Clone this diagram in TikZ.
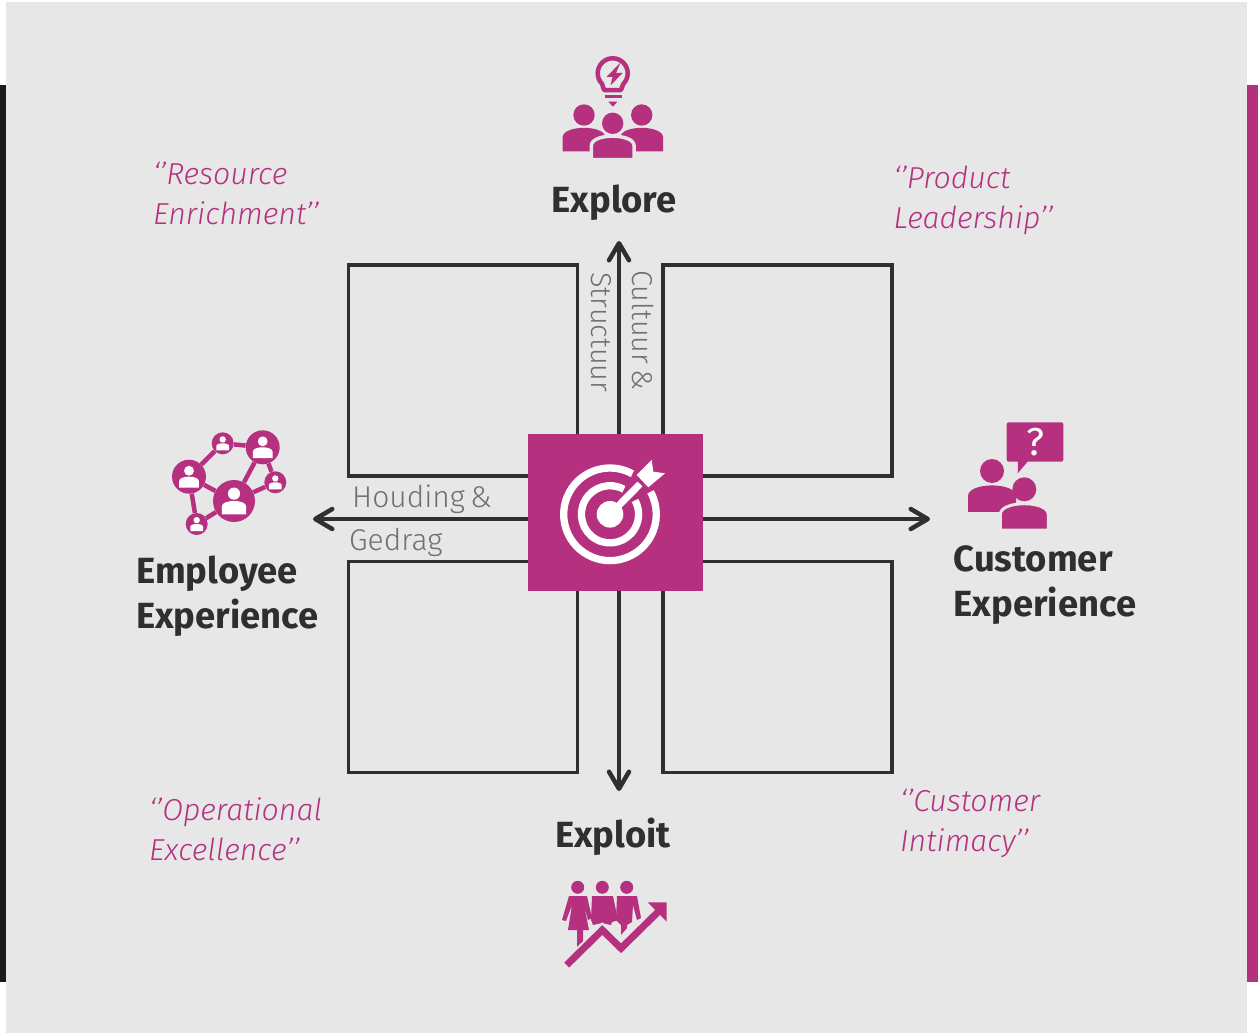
\documentclass[tikz,border=0pt]{standalone}
\usepackage{fontspec}
\setmainfont{Fira Sans}
\newfontfamily\lightfont{Fira Sans Light}
\usetikzlibrary{arrows.meta}
\definecolor{accent}{HTML}{B5317F}
\definecolor{panel}{HTML}{E7E7E7}
\definecolor{ink}{HTML}{2F2F2F}
\definecolor{mute}{HTML}{707070}
\tikzset{
  headfont/.style={font=\fontsize{36.4}{45}\selectfont\bfseries,text=ink,inner sep=0pt,align=left},
  quotefont/.style={font=\fontsize{30.3}{40.3}\selectfont\lightfont\itshape,text=accent,inner sep=0pt,align=left},
  axisfont/.style={font=\fontsize{30}{40}\selectfont\lightfont,text=mute,inner sep=0pt},
  uprightfont/.style={font=\fontsize{28.8}{40}\selectfont\lightfont,text=mute,inner sep=0pt},
  quadrant/.style={draw=ink,line width=3.7pt,minimum width=229pt,minimum height=211pt},
  flow/.style={draw=ink,line width=3.7pt,{Straight Barb[length=17pt,width=20pt,line width=4.5pt,round]}-{Straight Barb[length=17pt,width=20pt,line width=4.5pt,round]}}
}
% head at (#1,#2), radius #3, path options #4
\newcommand{\person}[4]{
  \path[#4,draw=none] (#1,#2) circle(#3pt);
  \path[#4] ({#1-2*#3},{#2+3.4*#3}) -- ({#1-2*#3},{#2+2.1*#3})
    .. controls ({#1-2*#3},{#2+1.5*#3}) and ({#1-#3},{#2+1.2*#3}) .. ({#1},{#2+1.2*#3})
    .. controls ({#1+#3},{#2+1.2*#3}) and ({#1+2*#3},{#2+1.5*#3}) .. ({#1+2*#3},{#2+2.1*#3})
    -- ({#1+2*#3},{#2+3.4*#3}) -- cycle;
}
\begin{document}
\begin{tikzpicture}[x=1pt,y=-1pt]
  \useasboundingbox (0,0) rectangle (1258,1033);
  \fill[white] (0,0) rectangle (1258,1033);
  \fill[panel] (6,2) rectangle (1247,1033);
  \fill[black!90] (0,85) rectangle (6,982);
  \fill[accent] (1247,85) rectangle (1258,982);

  \foreach \n/\x/\y in {tl/463/370.5, tr/777.5/370.5, bl/463/667, br/777.5/667}
    \node[quadrant] (box\n) at (\x,\y) {};

  \coordinate (tipN) at (619,241);
  \coordinate (tipS) at (619,791);
  \coordinate (tipW) at (313,519);
  \coordinate (tipE) at (930,519);
  \draw[flow] (tipN) -- (tipS);
  \draw[flow] (tipW) -- (tipE);

  \node[fill=accent,minimum width=175pt,minimum height=157pt] (hub) at (615.5,512.5) {};
  \foreach \a/\r in {46.3/7.3, 28.6/7.3}
    \draw[white,line width=\r pt] (610,514.3) ++(61:\a pt) arc[start angle=61,end angle=389,radius=\a pt];
  \fill[white] (610,514.3) circle(13.3pt);
  \draw[white,line width=7pt] (610,514.3) -- (640,484);
  \fill[white] (636.7,475) -- (651.7,460) -- (653.3,471.7) -- (665,473.3) -- (648.3,487.3) -- cycle;

  \node[headfont,anchor=base] (explore) at (614,212.5) {Explore};
  \node[headfont,anchor=base] (exploit) at (613,847.5) {Exploit};
  \node[headfont,anchor=north west] (employee) at (136,555.5) {Employee\\Experience};
  \node[headfont,anchor=north west] (customer) at (953.5,545) {Customer\\Experience};

  \node[quotefont,anchor=north west] (enrich) at (153,161.5) {‘’Resource\\Enrichment’’};
  \node[quotefont,anchor=north west] (product) at (893.5,165.5) {‘’Product\\Leadership’’};
  \node[quotefont,anchor=north west] (operate) at (149,797) {‘’Operational\\Excellence’’};
  \node[quotefont,anchor=north west] (intimacy) at (900,789) {‘’Customer\\Intimacy’’};

  \node[axisfont,anchor=base west] (houding) at (352,507) {Houding\,\&};
  \node[axisfont,anchor=base west] (gedrag) at (349,550.5) {Gedrag};
  \node[uprightfont,anchor=base west,rotate=-90] (structuur) at (591,272) {Structuur};
  \node[uprightfont,anchor=base west,rotate=-90] (cultuur) at (632.5,270) {Cultuur\,\&};

  % explore icon
  \draw[accent,line width=4.5pt,line join=round] (604,90) -- (602.1,83.9)
    arc[start angle=225,end angle=-45,radius=15pt] -- (621,90) -- cycle;
  \fill[accent] (605,95) rectangle (621.7,98.3);
  \fill[accent] (608.3,101.7) -- (617.3,101.7) -- (613,106.7) -- cycle;
  \fill[accent] (620.5,62.5) -- (606.5,77) -- (612.5,77) -- (610.5,85.5) -- (622.5,73) -- (616,73) -- cycle;
  \foreach \x/\y in {584/115, 641.7/115}
    {\person{\x}{\y}{10.7}{fill=accent}}
  \person{612.7}{123.3}{10.7}{fill=accent,draw=panel,line width=3.5pt}

  % employee icon
  \foreach \n/\x/\y/\r in {a/234/501/21, b/262.7/447.3/17, c/189/476.7/17, d/222.7/443.3/11, e/275.3/482.3/11, f/196.7/524/11}
    \node[circle,fill=accent,inner sep=0pt,minimum size=2*\r pt] (peer\n) at (\x,\y) {};
  \foreach \p/\q in {c/d, d/b, b/a, b/e, a/e, a/c, c/f, f/a}
    \draw[accent,line width=4.5pt] (peer\p) -- (peer\q);
  \foreach \x/\y/\r in {234/501/21, 262.7/447.3/17, 189/476.7/17, 222.7/443.3/11, 275.3/482.3/11, 196.7/524/11}
    {\person{\x}{\y-0.35*\r}{0.29*\r}{fill=white}}

  % customer icon
  \fill[accent,rounded corners=2pt] (1006.7,422.3) rectangle (1063.3,461.7);
  \fill[accent] (1018,460) -- (1017.7,473.3) -- (1029,460) -- cycle;
  \node[text=white,font=\fontsize{39}{39}\selectfont,inner sep=0pt] (ask) at (1035,442) {?};
  \person{992}{471}{12}{fill=accent}
  \person{1024.3}{489.3}{12}{fill=accent,draw=panel,line width=3pt}

  % exploit icon
  \foreach \x in {577.7,602.3,626.7}
    \fill[accent] (\x,887.3) circle(6.5pt);
  \fill[accent] (569,896) -- (587,896) -- (592,918) -- (588,920) -- (584,905) -- (589,930) -- (583,930) -- (583,948) -- (577,948) -- (577,930) -- (568,930) -- (572,905) -- (566,921) -- (562,920) -- cycle;
  \fill[accent] (592,896) -- (613,896) -- (618,920) -- (612,922) -- (611,925) -- (602,923) -- (593,925) -- (591,920) -- cycle;
  \fill[accent] (617,896) -- (637,896) -- (641,918) -- (637,920) -- (633,905) -- (632,922) -- (627,925) -- (627,928) -- (621,935) -- (621,925) -- (616,920) -- cycle;
  \draw[panel,line width=11pt] (566.7,965) -- (602.3,930) -- (621,948.3) -- (658,912);
  \draw[accent,line width=7pt] (566.7,965) -- (602.3,930) -- (621,948.3) -- (658,912);
  \fill[accent] (647.7,902.3) -- (666.7,902.3) -- (666.7,921.7) -- cycle;
\end{tikzpicture}
\end{document}
